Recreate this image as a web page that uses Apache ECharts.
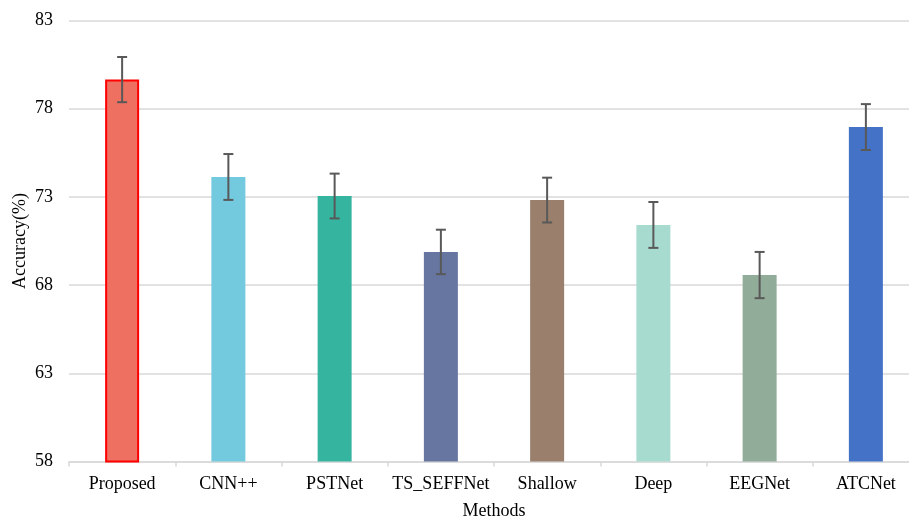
<!DOCTYPE html>
<html>
<head>
<meta charset="utf-8">
<script src="https://cdn.jsdelivr.net/npm/echarts@6/dist/echarts.min.js"></script>
<style>html,body{margin:0;padding:0;background:#fff}#c{width:909px;height:518px}</style>
</head>
<body>
<div id="c"></div>
<script>
const categories = ['Proposed', 'CNN++', 'PSTNet', 'TS_SEFFNet', 'Shallow', 'Deep', 'EEGNet', 'ATCNet'];
const accuracy = [79.65, 74.13, 73.05, 69.88, 72.82, 71.41, 68.57, 76.96];
const errorSize = [1.28, 1.3, 1.27, 1.26, 1.27, 1.3, 1.31, 1.3];
const colors = ['#ED7060', '#73C9DE', '#35B49F', '#6676A1', '#9A7F6C', '#A8DBCF', '#91AC98', '#4472C6'];
const yTicks = [58, 63, 68, 73, 78, 83];

const font = '"Liberation Serif", "Times New Roman", serif';
const chart = echarts.init(document.getElementById('c'));
chart.setOption({
  animation: false,
  grid: { left: 69, top: 20.5, width: 850, height: 441, containLabel: false, outerBoundsMode: 'none' },
  xAxis: {
    type: 'category',
    data: categories,
    name: 'Methods',
    nameLocation: 'middle',
    nameGap: 41,
    nameMoveOverlap: false,
    nameTextStyle: { fontFamily: font, fontSize: 18, color: '#000' },
    axisLine: { lineStyle: { color: '#D9D9D9', width: 1.5 } },
    axisTick: { show: true, length: 5, lineStyle: { color: '#D9D9D9', width: 1.5 } },
    axisLabel: { fontFamily: font, fontSize: 18, color: '#000', margin: 14, interval: 0 }
  },
  yAxis: {
    type: 'value',
    min: yTicks[0],
    max: yTicks[yTicks.length - 1],
    interval: 5,
    name: 'Accuracy(%)',
    nameLocation: 'middle',
    nameGap: 40,
    nameRotate: 90,
    nameMoveOverlap: false,
    nameTextStyle: { fontFamily: font, fontSize: 18, color: '#000' },
    axisLine: { show: false },
    axisTick: { show: false },
    axisLabel: { fontFamily: font, fontSize: 18, color: '#000', margin: 16 },
    splitLine: { lineStyle: { color: '#D9D9D9', width: 1.5 } }
  },
  series: [
    {
      type: 'bar',
      barWidth: 34,
      data: accuracy.map((v, i) => ({
        value: v,
        itemStyle: i === 0
          ? { color: colors[i], borderColor: '#FF0000', borderWidth: 2 }
          : { color: colors[i] }
      })),
      z: 2
    },
    {
      type: 'custom',
      data: accuracy.map((v, i) => [i, v - errorSize[i], v + errorSize[i]]),
      z: 5,
      renderItem: function (params, api) {
        const lo = api.coord([api.value(0), api.value(1)]);
        const hi = api.coord([api.value(0), api.value(2)]);
        const hw = 5;
        const style = { stroke: '#595959', lineWidth: 2, fill: null };
        return {
          type: 'group',
          children: [
            { type: 'line', shape: { x1: lo[0], y1: lo[1], x2: hi[0], y2: hi[1] }, style },
            { type: 'line', shape: { x1: lo[0] - hw, y1: lo[1], x2: lo[0] + hw, y2: lo[1] }, style },
            { type: 'line', shape: { x1: hi[0] - hw, y1: hi[1], x2: hi[0] + hw, y2: hi[1] }, style }
          ]
        };
      }
    }
  ]
});
</script>
</body>
</html>
